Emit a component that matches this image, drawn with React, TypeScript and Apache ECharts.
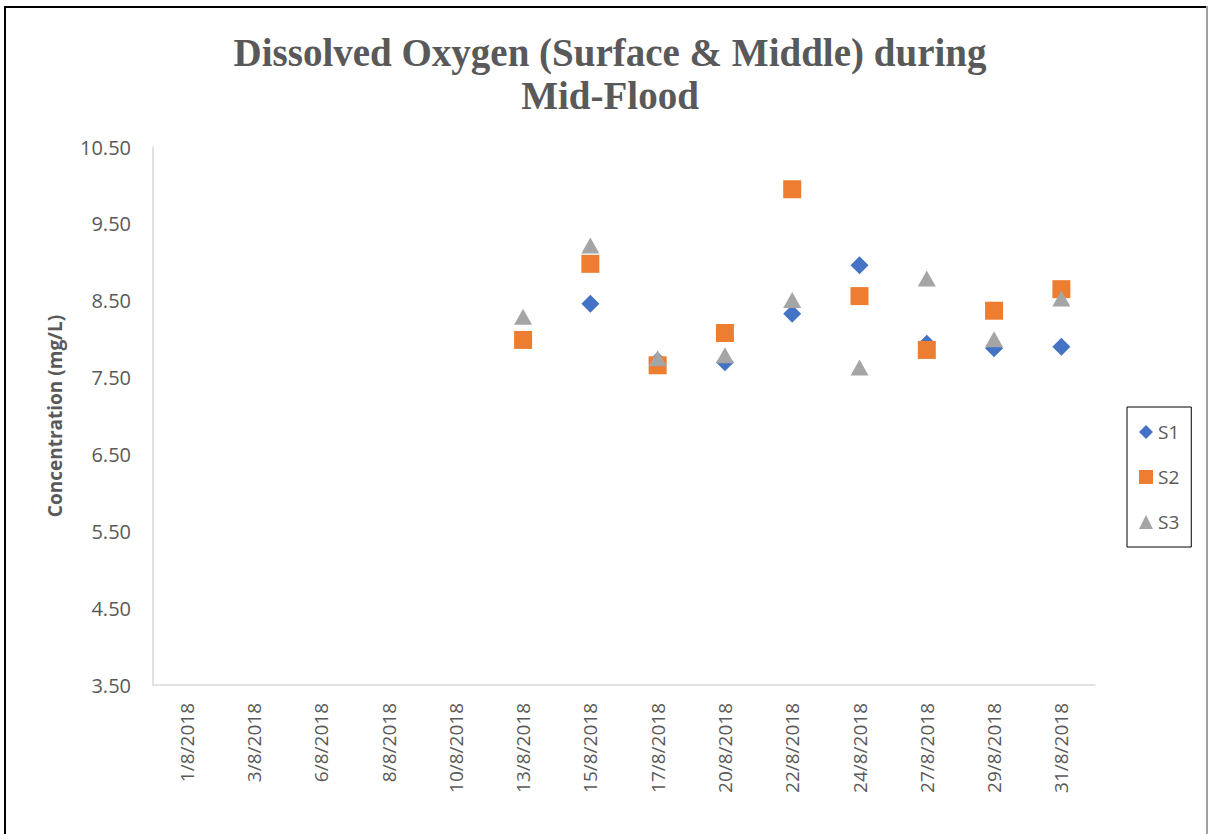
import React, { useEffect, useRef } from "react";
import * as echarts from "echarts";

const categories = [
  "1/8/2018", "3/8/2018", "6/8/2018", "8/8/2018", "10/8/2018", "13/8/2018", "15/8/2018",
  "17/8/2018", "20/8/2018", "22/8/2018", "24/8/2018", "27/8/2018", "29/8/2018", "31/8/2018",
];
const s1 = [null, null, null, null, null, null, 8.46, 7.72, 7.7, 8.33, 8.96, 7.94, 7.88, 7.9];
const s2 = [null, null, null, null, null, 7.99, 8.98, 7.66, 8.08, 9.95, 8.56, 7.86, 8.37, 8.65];
const s3 = [null, null, null, null, null, 8.29, 9.22, 7.75, 7.79, 8.51, 7.63, 8.79, 8.0, 8.53];
const seriesNames = ["S1", "S2", "S3"];
const colors = ["#4472C4", "#ED7D31", "#A5A5A5"];
const symbols = ["diamond", "rect", "triangle"];
const yMin = 3.5;
const yMax = 10.5;

export default function App() {
  const ref = useRef<HTMLDivElement>(null);
  useEffect(() => {
    document.body.style.margin = "0";
    const chart = echarts.init(ref.current!, null, { renderer: "svg" });
    const data = [s1, s2, s3];
    chart.setOption({
      animation: false,
      backgroundColor: "#ffffff",
      title: {
        text: "Dissolved Oxygen (Surface & Middle) during\nMid-Flood",
        left: 605,
        top: 26,
        textAlign: "center",
        textStyle: {
          fontFamily: "Liberation Serif",
          fontWeight: "bold",
          fontSize: 39,
          lineHeight: 43,
          color: "#595959",
        },
      },
      grid: { left: 153, top: 147, right: 113, bottom: 149, containLabel: false },
      legend: {
        orient: "vertical",
        left: 1127,
        top: 407,
        width: 65,
        data: seriesNames.map((n, i) => ({ name: n, icon: symbols[i] })),
        itemWidth: 14,
        itemHeight: 14,
        itemGap: 25,
        borderColor: "#000000",
        borderWidth: 1,
        padding: [15, 12, 15, 12],
        textStyle: { fontFamily: "Open Sans", fontSize: 19, color: "#595959", lineHeight: 20 },
      },
      xAxis: {
        type: "category",
        data: categories,
        boundaryGap: true,
        axisLine: { show: true, lineStyle: { color: "#d9d9d9", width: 1.5 } },
        axisTick: { show: false },
        splitLine: { show: false },
        axisLabel: {
          rotate: 90,
          interval: 0,
          margin: 18,
          fontFamily: "Open Sans",
          fontSize: 19,
          color: "#595959",
        },
      },
      yAxis: {
        type: "value",
        min: yMin,
        max: yMax,
        interval: 0.5,
        name: "Concentration (mg/L)",
        nameLocation: "middle",
        nameGap: 89,
        nameTextStyle: { fontFamily: "Open Sans", fontWeight: "bold", fontSize: 19, color: "#595959" },
        axisLine: { show: true, lineStyle: { color: "#d9d9d9", width: 1.5 } },
        axisTick: { show: false },
        splitLine: { show: false },
        axisLabel: {
          margin: 22,
          fontFamily: "Open Sans",
          fontSize: 20,
          color: "#595959",
          formatter: (v: number) =>
            Math.abs(((v - yMin) % 1)) < 1e-6 || Math.abs(((v - yMin) % 1) - 1) < 1e-6 ? v.toFixed(2) : "",
        },
      },
      series: data.map((d, i) => ({
        name: seriesNames[i],
        type: "scatter",
        data: d,
        symbol: symbols[i],
        symbolSize: i === 2 ? [18, 16] : 18,
        itemStyle: { color: colors[i], opacity: 1 },
      })),
      graphic: [
        { type: "rect", shape: { x: 4, y: 6, width: 2, height: 828 }, style: { fill: "#000000" } },
        { type: "rect", shape: { x: 4, y: 6, width: 1202, height: 2 }, style: { fill: "#000000" } },
        { type: "rect", shape: { x: 1206, y: 6, width: 2, height: 828 }, style: { fill: "#a0a0a0" } },
      ],
    });
    return () => chart.dispose();
  }, []);
  return <div ref={ref} style={{ width: 1208, height: 834, position: "absolute", left: 0, top: 0 }} />;
}
